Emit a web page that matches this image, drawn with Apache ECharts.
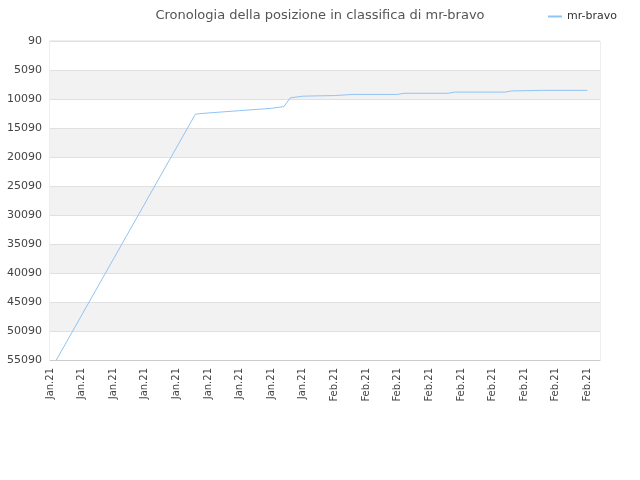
<!DOCTYPE html>
<html><head><meta charset="utf-8">
<script src="https://cdn.jsdelivr.net/npm/echarts@6/dist/echarts.min.js"></script>
<style>html,body{margin:0;padding:0}#c{width:640px;height:480px}</style>
</head><body><div id="c"></div>
<script>
const tickLabels = ["Jan.21","Jan.21","Jan.21","Jan.21","Jan.21","Jan.21","Jan.21","Jan.21","Jan.21","Feb.21","Feb.21","Feb.21","Feb.21","Feb.21","Feb.21","Feb.21","Feb.21","Feb.21"];
const knownPoints = [[1,55090],[23,12700],[25,12500],[30,12100],[35,11700],[37,11400],[38,9900],[40,9600],[45,9500],[48,9300],[55,9300],[56,9100],[63,9100],[64,8900],[72,8900],[73,8700],[78,8600],[85,8600]];
const seriesName = "mr-bravo";
const STEPS = 5;
const categories = [];
tickLabels.forEach((l) => { for (let k = 0; k < STEPS; k++) categories.push(k === 0 ? l : ''); });
categories.length = (tickLabels.length - 1) * STEPS + 3;
for (let i = 0; i < categories.length; i++) if (categories[i] === undefined) categories[i] = '';
const values = categories.map(() => null);
knownPoints.forEach(([i, v]) => { values[i] = v; });
const chart = echarts.init(document.getElementById('c'));
chart.setOption({
  animation: false,
  title: { text: 'Cronologia della posizione in classifica di mr-bravo', left: 'center', top: 4,
    textStyle: { fontFamily: 'DejaVu Sans', fontSize: 13, fontWeight: 'normal', color: '#555' } },
  legend: { right: 18, top: 6, itemWidth: 14, itemHeight: 2, data: [seriesName],
    textStyle: { fontFamily: 'DejaVu Sans', fontSize: 11, color: '#333' }, icon: 'rect' },
  grid: { left: 50, right: 40, top: 41, bottom: 120, show: true, borderColor: '#ddd', borderWidth: 1 },
  xAxis: { type: 'category', data: categories, boundaryGap: false,
    axisLine: { lineStyle: { color: '#ccc' } }, axisTick: { show: false },
    axisLabel: { interval: STEPS - 1, rotate: 90, color: '#444', fontFamily: 'DejaVu Sans', fontSize: 10 },
    splitLine: { show: false } },
  yAxis: { type: 'value', inverse: true, min: 90, max: 55090, interval: 5000,
    axisLine: { show: false }, axisTick: { show: false },
    axisLabel: { color: '#444', fontFamily: 'DejaVu Sans', fontSize: 11, formatter: v => String(v) },
    splitLine: { lineStyle: { color: '#e0e0e0' } },
    splitArea: { show: true, areaStyle: { color: ['#ffffff', '#f2f2f2'] } } },
  series: [{ name: seriesName, type: 'line', data: values, connectNulls: true, showSymbol: false,
    lineStyle: { color: '#90c4f2', width: 1 }, itemStyle: { color: '#90c4f2' } }]
});
</script></body></html>
